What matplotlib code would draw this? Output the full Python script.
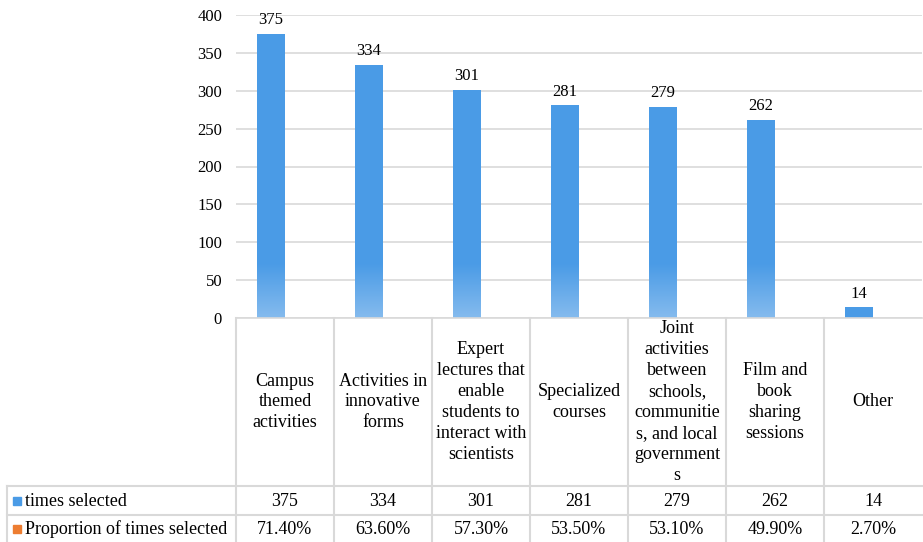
import numpy as np
import matplotlib.pyplot as plt
from matplotlib.colors import LinearSegmentedColormap

plt.rcParams['font.family'] = ['Liberation Serif', 'DejaVu Serif']

# data
categories = ["Campus\nthemed\nactivities",
              "Activities in\ninnovative\nforms",
              "Expert\nlectures that\nenable\nstudents to\ninteract with\nscientists",
              "Specialized\ncourses",
              "Joint\nactivities\nbetween\nschools,\ncommunitie\ns, and local\ngovernment\ns",
              "Film and\nbook\nsharing\nsessions",
              "Other"]
times_selected = [375, 334, 301, 281, 279, 262, 14]
proportion = [71.40, 63.60, 57.30, 53.50, 53.10, 49.90, 2.70]
series_names = ["times selected", "Proportion of times selected"]

blue = '#4a9be6'
orange = '#ed7d31'
grid_c = '#d9d9d9'

W, H = 923, 542
fig = plt.figure(figsize=(W / 100, H / 100), dpi=100)

# pixel layout of plot area / table
px_left, px_right = 236, 922
px_top, px_zero = 15, 318
row1, row2, row3 = 486, 515, 542
tab_left = 7

ax = fig.add_axes([px_left / W, 1 - px_zero / H, (px_right - px_left) / W, (px_zero - px_top) / H])
n = len(categories)
x = np.arange(n)
bw = 0.285
bars = ax.bar(x + 0.5 - bw, times_selected, width=bw, align='edge', color=blue, zorder=2)
# second series (proportion values are tiny next to counts)
ax.bar(x + 0.5, proportion, width=bw, align='edge', color=orange, zorder=2, alpha=0)

# lighter gradient towards the bottom of each bar
cmap = LinearSegmentedColormap.from_list('g', ['#85bbee', blue])
grad = np.linspace(0, 1, 100).reshape(-1, 1)
for b, v in zip(bars, times_selected):
    if v > 72:
        im = ax.imshow(grad, extent=[b.get_x(), b.get_x() + b.get_width(), 0, 72],
                       origin='lower', aspect='auto', cmap=cmap, zorder=2.5)
        im.set_clip_path(b)

for b, v in zip(bars, times_selected):
    ax.annotate(str(v), (b.get_x() + b.get_width() / 2, v), xytext=(0, 4),
                textcoords='offset points', ha='center', va='bottom', fontsize=12)

ax.set_xlim(0, n)
ax.set_ylim(0, 400)
ax.set_yticks(range(0, 401, 50))
ax.set_xticks([])
ax.tick_params(axis='y', length=0, pad=10, labelsize=12)
ax.yaxis.grid(True, color=grid_c, linewidth=1.2, zorder=0)
for s in ['top', 'right', 'left']:
    ax.spines[s].set_visible(False)
ax.spines['bottom'].set_color(grid_c)
ax.spines['bottom'].set_linewidth(1.2)

# data table below the chart
tb = fig.add_axes([0, 0, 1, 1])
tb.set_xlim(0, W)
tb.set_ylim(H, 0)
tb.axis('off')
tb.patch.set_alpha(0)

col_w = (px_right - px_left) / n
edges = [px_left + i * col_w for i in range(n + 1)]
lc = dict(color=grid_c, linewidth=1.5)
for e in edges[1:-1]:
    tb.plot([e, e], [px_zero, row3], **lc)
tb.plot([px_left, px_left], [px_zero, row3], **lc)
tb.plot([tab_left, tab_left], [row1, row3], **lc)
tb.plot([tab_left, px_right], [row1, row1], **lc)
tb.plot([tab_left, px_right], [row2, row2], **lc)

fs = 13
for i, lab in enumerate(categories):
    cx = (edges[i] + edges[i + 1]) / 2
    tb.text(cx, (px_zero + row1) / 2, lab, ha='center', va='center', fontsize=fs, linespacing=1.3)
    tb.text(cx, (row1 + row2) / 2 + 1, str(times_selected[i]), ha='center', va='center', fontsize=fs)
    tb.text(cx, (row2 + row3) / 2 + 1, f"{proportion[i]:.2f}%", ha='center', va='center', fontsize=fs)

for (y0, y1), name, c in zip([(row1, row2), (row2, row3)], series_names, [blue, orange]):
    ym = (y0 + y1) / 2
    tb.add_patch(plt.Rectangle((13, ym - 4), 8, 8, color=c))
    tb.text(25, ym + 1, name, ha='left', va='center', fontsize=fs)

fig.savefig('out.png', dpi=100)
